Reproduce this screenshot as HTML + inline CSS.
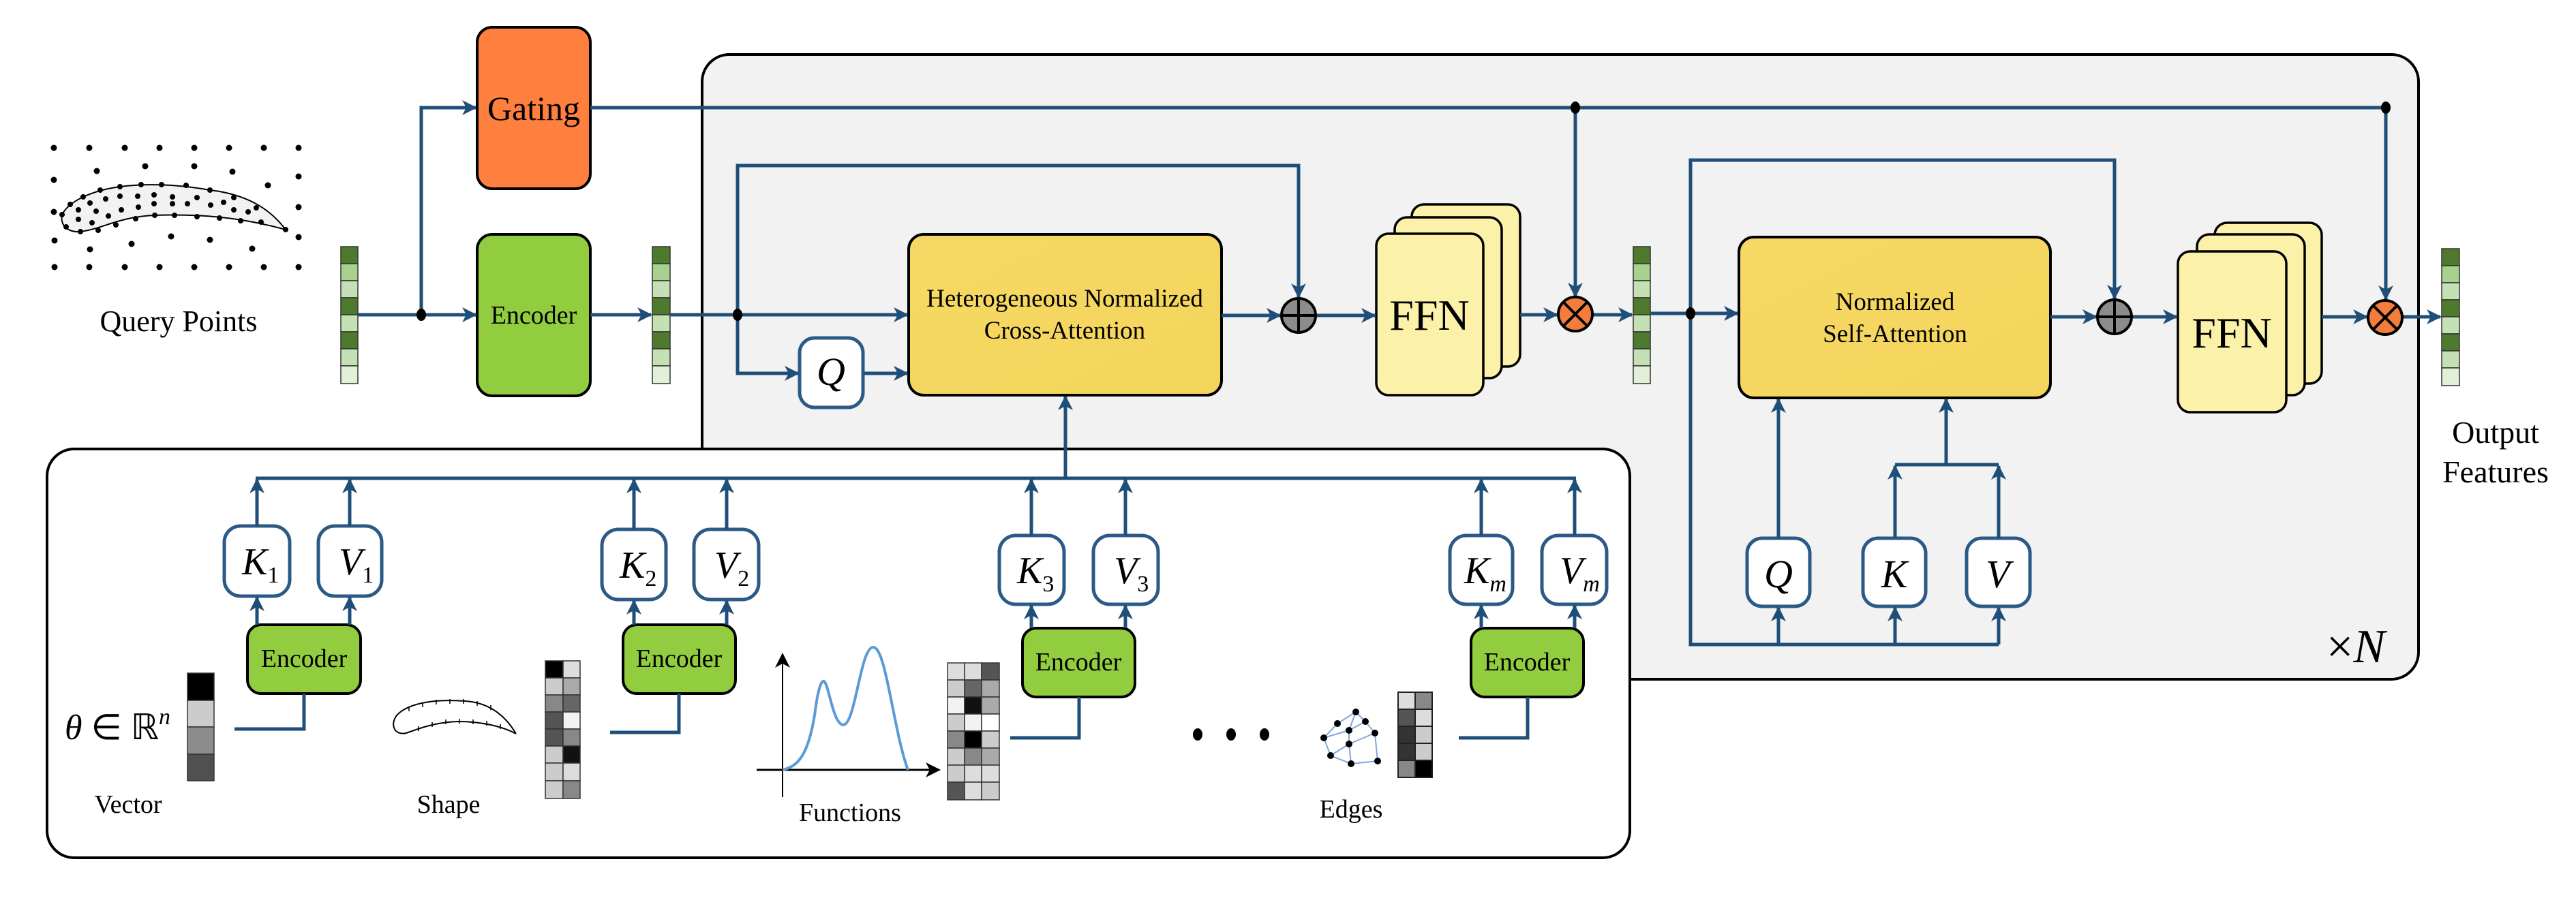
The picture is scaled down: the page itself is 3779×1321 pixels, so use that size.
<!DOCTYPE html>
<html><head><meta charset="utf-8"><style>
html,body{margin:0;padding:0;background:#fff}
svg{display:block}
text{font-family:"Liberation Serif","Times New Roman",serif;fill:#000}
</style></head><body>
<svg width="3779" height="1321" viewBox="0 0 3779 1321" xmlns="http://www.w3.org/2000/svg" font-family="Liberation Serif, serif">
<defs>
<marker id="a" markerUnits="userSpaceOnUse" markerWidth="24" markerHeight="22" refX="20" refY="11" orient="auto">
<path d="M0,0 L22,11 L0,22 L6,11 Z" fill="#1F4E79"/>
</marker>
<marker id="k" markerUnits="userSpaceOnUse" markerWidth="24" markerHeight="22" refX="20" refY="11" orient="auto">
<path d="M0,0 L22,11 L0,22 L6,11 Z" fill="#000"/>
</marker>
<linearGradient id="yg" x1="0" y1="0" x2="1" y2="1">
<stop offset="0" stop-color="#F6D864"/><stop offset="1" stop-color="#F4D55C"/></linearGradient>
</defs>

<rect x="1030" y="80" width="2518" height="917" rx="40" fill="#F2F2F2" stroke="#000" stroke-width="4"/>
<rect x="69" y="659" width="2322" height="600" rx="40" fill="#fff" stroke="#000" stroke-width="4"/>

<g fill="#000">
<circle cx="79" cy="217" r="4.5"/><circle cx="131" cy="217" r="4.5"/><circle cx="183" cy="217" r="4.5"/><circle cx="234" cy="217" r="4.5"/><circle cx="285" cy="217" r="4.5"/><circle cx="336" cy="217" r="4.5"/><circle cx="387" cy="217" r="4.5"/><circle cx="438" cy="217" r="4.5"/>
<circle cx="80" cy="392" r="4.5"/><circle cx="131" cy="392" r="4.5"/><circle cx="183" cy="392" r="4.5"/><circle cx="234" cy="392" r="4.5"/><circle cx="285" cy="392" r="4.5"/><circle cx="336" cy="392" r="4.5"/><circle cx="387" cy="392" r="4.5"/><circle cx="438" cy="392" r="4.5"/>
<circle cx="142" cy="251" r="4.5"/><circle cx="213" cy="244" r="4.5"/><circle cx="285" cy="244" r="4.5"/><circle cx="341" cy="252" r="4.5"/><circle cx="79" cy="264" r="4.5"/><circle cx="438" cy="259" r="4.5"/><circle cx="393" cy="272" r="4.5"/><circle cx="79" cy="311" r="4.5"/><circle cx="438" cy="304" r="4.5"/><circle cx="80" cy="353" r="4.5"/><circle cx="438" cy="348" r="4.5"/><circle cx="132" cy="366" r="4.5"/><circle cx="251" cy="347" r="4.5"/><circle cx="308" cy="352" r="4.5"/><circle cx="193" cy="358" r="4.5"/><circle cx="370" cy="365" r="4.5"/>
</g>
<path d="M419,337 C395,305 360,285 308,279 C270,272 220,268 176,274 C140,279 105,292 92,313 C86,330 100,342 118,340 C150,336 175,318 227,316 C290,314 350,318 419,337 Z" fill="#F2F2F2" stroke="#000" stroke-width="2"/>
<g fill="#000">
<circle cx="91" cy="315" r="4"/><circle cx="103" cy="300" r="4"/><circle cx="122" cy="289" r="4"/><circle cx="147" cy="279" r="4"/><circle cx="176" cy="274" r="4"/><circle cx="207" cy="271" r="4"/><circle cx="237" cy="271" r="4"/><circle cx="273" cy="272" r="4"/><circle cx="308" cy="279" r="4"/><circle cx="343" cy="290" r="4"/><circle cx="376" cy="305" r="4"/><circle cx="419" cy="337" r="4"/>
<circle cx="97" cy="333" r="4"/><circle cx="118" cy="340" r="4"/><circle cx="144" cy="338" r="4"/><circle cx="170" cy="330" r="4"/><circle cx="199" cy="321" r="4"/><circle cx="227" cy="316" r="4"/><circle cx="256" cy="316" r="4"/><circle cx="289" cy="318" r="4"/><circle cx="322" cy="320" r="4"/><circle cx="353" cy="324" r="4"/><circle cx="383" cy="326" r="4"/>
<circle cx="132" cy="298" r="4"/><circle cx="155" cy="292" r="4"/><circle cx="176" cy="288" r="4"/><circle cx="202" cy="288" r="4"/><circle cx="226" cy="286" r="4"/><circle cx="253" cy="289" r="4"/><circle cx="289" cy="290" r="4"/><circle cx="115" cy="308" r="4"/><circle cx="141" cy="310" r="4"/><circle cx="178" cy="308" r="4"/><circle cx="203" cy="304" r="4"/><circle cx="226" cy="299" r="4"/><circle cx="253" cy="299" r="4"/><circle cx="275" cy="299" r="4"/><circle cx="309" cy="301" r="4"/><circle cx="328" cy="297" r="4"/><circle cx="343" cy="308" r="4"/><circle cx="364" cy="311" r="4"/><circle cx="115" cy="322" r="4"/><circle cx="135" cy="327" r="4"/><circle cx="159" cy="317" r="4"/>
</g>
<text x="262" y="486" font-size="44" text-anchor="middle">Query Points</text>

<g stroke="#333" stroke-width="1.5">
<rect x="500" y="362" width="25" height="25" fill="#4E7A2E"/><rect x="500" y="387" width="25" height="25" fill="#A9D18E"/><rect x="500" y="412" width="25" height="25" fill="#C5E0B4"/><rect x="500" y="437" width="25" height="25" fill="#4E7A2E"/><rect x="500" y="462" width="25" height="25" fill="#C5E0B4"/><rect x="500" y="487" width="25" height="25" fill="#4E7A2E"/><rect x="500" y="512" width="25" height="25" fill="#C5E0B4"/><rect x="500" y="537" width="25" height="26" fill="#E2F0D9"/>
<rect x="957" y="362" width="26" height="25" fill="#4E7A2E"/><rect x="957" y="387" width="26" height="25" fill="#A9D18E"/><rect x="957" y="412" width="26" height="25" fill="#C5E0B4"/><rect x="957" y="437" width="26" height="25" fill="#4E7A2E"/><rect x="957" y="462" width="26" height="25" fill="#C5E0B4"/><rect x="957" y="487" width="26" height="25" fill="#4E7A2E"/><rect x="957" y="512" width="26" height="25" fill="#C5E0B4"/><rect x="957" y="537" width="26" height="26" fill="#E2F0D9"/>
<rect x="2396" y="362" width="25" height="25" fill="#4E7A2E"/><rect x="2396" y="387" width="25" height="25" fill="#A9D18E"/><rect x="2396" y="412" width="25" height="25" fill="#C5E0B4"/><rect x="2396" y="437" width="25" height="25" fill="#4E7A2E"/><rect x="2396" y="462" width="25" height="25" fill="#C5E0B4"/><rect x="2396" y="487" width="25" height="25" fill="#4E7A2E"/><rect x="2396" y="512" width="25" height="25" fill="#C5E0B4"/><rect x="2396" y="537" width="25" height="26" fill="#E2F0D9"/>
<rect x="3582" y="365" width="26" height="25" fill="#4E7A2E"/><rect x="3582" y="390" width="26" height="25" fill="#A9D18E"/><rect x="3582" y="415" width="26" height="25" fill="#C5E0B4"/><rect x="3582" y="440" width="26" height="25" fill="#4E7A2E"/><rect x="3582" y="465" width="26" height="25" fill="#C5E0B4"/><rect x="3582" y="490" width="26" height="25" fill="#4E7A2E"/><rect x="3582" y="515" width="26" height="25" fill="#C5E0B4"/><rect x="3582" y="540" width="26" height="26" fill="#E2F0D9"/>
</g>

<rect x="700" y="40" width="166" height="237" rx="22" fill="#FF7F3F" stroke="#000" stroke-width="4"/>
<text x="783" y="176" font-size="50" text-anchor="middle">Gating</text>
<rect x="700" y="344" width="166" height="237" rx="22" fill="#92CD3F" stroke="#000" stroke-width="4"/>
<text x="783" y="475" font-size="38" text-anchor="middle">Encoder</text>

<rect x="1333" y="344" width="459" height="236" rx="22" fill="url(#yg)" stroke="#000" stroke-width="4"/>
<text x="1562" y="450" font-size="37" text-anchor="middle">Heterogeneous Normalized</text>
<text x="1562" y="497" font-size="37" text-anchor="middle">Cross-Attention</text>

<rect x="1173" y="496" width="93" height="102" rx="22" fill="#fff" stroke="#2B5A87" stroke-width="5"/>
<text x="1219" y="565" font-size="58" font-style="italic" text-anchor="middle">Q</text>

<rect x="2071" y="300" width="159" height="238" rx="18" fill="#FBF1A9" stroke="#000" stroke-width="3.5"/>
<rect x="2046" y="319" width="157" height="236" rx="18" fill="#FBF1A9" stroke="#000" stroke-width="3.5"/>
<rect x="2019" y="343" width="157" height="237" rx="18" fill="#FBF1A9" stroke="#000" stroke-width="3.5"/>
<text x="2097" y="484" font-size="64" text-anchor="middle">FFN</text>

<rect x="2551" y="348" width="457" height="236" rx="22" fill="url(#yg)" stroke="#000" stroke-width="4"/>
<text x="2780" y="455" font-size="37" text-anchor="middle">Normalized</text>
<text x="2780" y="502" font-size="37" text-anchor="middle">Self-Attention</text>

<rect x="3249" y="327" width="157" height="236" rx="18" fill="#FBF1A9" stroke="#000" stroke-width="3.5"/>
<rect x="3223" y="344" width="158" height="236" rx="18" fill="#FBF1A9" stroke="#000" stroke-width="3.5"/>
<rect x="3195" y="369" width="159" height="236" rx="18" fill="#FBF1A9" stroke="#000" stroke-width="3.5"/>
<text x="3274" y="510" font-size="64" text-anchor="middle">FFN</text>

<g fill="#fff" stroke="#2B5A87" stroke-width="5">
<rect x="2563" y="790" width="92" height="100" rx="22"/>
<rect x="2733" y="790" width="92" height="100" rx="22"/>
<rect x="2885" y="790" width="93" height="100" rx="22"/>
</g>
<text x="2609" y="862" font-size="58" font-style="italic" text-anchor="middle">Q</text>
<text x="2779" y="862" font-size="58" font-style="italic" text-anchor="middle">K</text>
<text x="2931" y="862" font-size="58" font-style="italic" text-anchor="middle">V</text>

<text x="3456" y="972" font-size="70" text-anchor="middle">×<tspan font-style="italic">N</tspan></text>
<text x="3661" y="650" font-size="46" text-anchor="middle">Output</text>
<text x="3661" y="708" font-size="46" text-anchor="middle">Features</text>

<g stroke="#1F4E79" stroke-width="5" fill="none">
<line x1="525" y1="462" x2="698" y2="462" marker-end="url(#a)"/>
<polyline points="618,462 618,158 698,158" marker-end="url(#a)"/>
<line x1="866" y1="158" x2="3500" y2="158"/>
<line x1="2311" y1="158" x2="2311" y2="435" marker-end="url(#a)"/>
<line x1="3500" y1="158" x2="3500" y2="439" marker-end="url(#a)"/>
<line x1="866" y1="462" x2="955" y2="462" marker-end="url(#a)"/>
<line x1="983" y1="462" x2="1331" y2="462" marker-end="url(#a)"/>
<polyline points="1082,462 1082,548 1171,548" marker-end="url(#a)"/>
<line x1="1266" y1="548" x2="1331" y2="548" marker-end="url(#a)"/>
<polyline points="1082,462 1082,243 1905,243 1905,436" marker-end="url(#a)"/>
<line x1="1792" y1="463" x2="1878" y2="463" marker-end="url(#a)"/>
<line x1="1931" y1="463" x2="2017" y2="463" marker-end="url(#a)"/>
<line x1="2230" y1="462" x2="2284" y2="462" marker-end="url(#a)"/>
<line x1="2337" y1="462" x2="2394" y2="462" marker-end="url(#a)"/>
<line x1="2421" y1="460" x2="2549" y2="460" marker-end="url(#a)"/>
<polyline points="2480,460 2480,235 3102,235 3102,438" marker-end="url(#a)"/>
<polyline points="2480,460 2480,946 2932,946"/>
<line x1="2609" y1="946" x2="2609" y2="892" marker-end="url(#a)"/>
<line x1="2780" y1="946" x2="2780" y2="892" marker-end="url(#a)"/>
<line x1="2932" y1="946" x2="2932" y2="892" marker-end="url(#a)"/>
<line x1="2609" y1="790" x2="2609" y2="586" marker-end="url(#a)"/>
<line x1="2780" y1="790" x2="2780" y2="684" marker-end="url(#a)"/>
<line x1="2932" y1="790" x2="2932" y2="684" marker-end="url(#a)"/>
<line x1="2780" y1="682" x2="2932" y2="682"/>
<line x1="2855" y1="682" x2="2855" y2="586" marker-end="url(#a)"/>
<line x1="3008" y1="465" x2="3075" y2="465" marker-end="url(#a)"/>
<line x1="3128" y1="465" x2="3193" y2="465" marker-end="url(#a)"/>
<line x1="3406" y1="465" x2="3472" y2="465" marker-end="url(#a)"/>
<line x1="3525" y1="465" x2="3580" y2="465" marker-end="url(#a)"/>
<line x1="1563" y1="702" x2="1563" y2="582" marker-end="url(#a)"/>
<line x1="375" y1="702" x2="2312" y2="702"/>
</g>
<g fill="#000">
<ellipse cx="618" cy="462" rx="7" ry="9"/><ellipse cx="1082" cy="462" rx="7" ry="9"/><ellipse cx="2480" cy="460" rx="7" ry="9"/>
<ellipse cx="2311" cy="158" rx="7" ry="9"/><ellipse cx="3500" cy="158" rx="7" ry="9"/>
</g>
<g stroke="#000" stroke-width="4">
<circle cx="1905" cy="463" r="25" fill="#8C8C8C"/><line x1="1880" y1="463" x2="1930" y2="463"/><line x1="1905" y1="438" x2="1905" y2="488"/>
<circle cx="3102" cy="465" r="25" fill="#8C8C8C"/><line x1="3077" y1="465" x2="3127" y2="465"/><line x1="3102" y1="440" x2="3102" y2="490"/>
<circle cx="2311" cy="461" r="25" fill="#F47C3C"/><line x1="2293" y1="443" x2="2329" y2="479"/><line x1="2329" y1="443" x2="2293" y2="479"/>
<circle cx="3499" cy="466" r="25" fill="#F47C3C"/><line x1="3481" y1="448" x2="3517" y2="484"/><line x1="3517" y1="448" x2="3481" y2="484"/>
</g>

<g fill="#fff" stroke="#2B5A87" stroke-width="5">
<rect x="329" y="772" width="96" height="103" rx="24"/><rect x="467" y="772" width="93" height="103" rx="24"/>
<rect x="883" y="777" width="94" height="103" rx="24"/><rect x="1018" y="777" width="95" height="103" rx="24"/>
<rect x="1466" y="786" width="95" height="101" rx="24"/><rect x="1604" y="786" width="95" height="101" rx="24"/>
<rect x="2127" y="786" width="92" height="101" rx="24"/><rect x="2262" y="786" width="95" height="101" rx="24"/>
</g>
<g font-size="56" font-style="italic">
<text x="355" y="843">K<tspan font-size="34" font-style="normal" dy="12">1</tspan></text>
<text x="497" y="843">V<tspan font-size="34" font-style="normal" dy="12">1</tspan></text>
<text x="909" y="848">K<tspan font-size="34" font-style="normal" dy="12">2</tspan></text>
<text x="1048" y="848">V<tspan font-size="34" font-style="normal" dy="12">2</tspan></text>
<text x="1492" y="856">K<tspan font-size="34" font-style="normal" dy="12">3</tspan></text>
<text x="1634" y="856">V<tspan font-size="34" font-style="normal" dy="12">3</tspan></text>
<text x="2148" y="856">K<tspan font-size="34" dy="12">m</tspan></text>
<text x="2288" y="856">V<tspan font-size="34" dy="12">m</tspan></text>
</g>
<g fill="#92CD3F" stroke="#000" stroke-width="4">
<rect x="363" y="917" width="166" height="101" rx="20"/>
<rect x="914" y="917" width="165" height="101" rx="20"/>
<rect x="1500" y="922" width="165" height="101" rx="20"/>
<rect x="2158" y="922" width="165" height="101" rx="20"/>
</g>
<g font-size="38" text-anchor="middle">
<text x="446" y="979">Encoder</text><text x="996" y="979">Encoder</text><text x="1582" y="984">Encoder</text><text x="2240" y="984">Encoder</text>
</g>
<g stroke="#1F4E79" stroke-width="5" fill="none">
<line x1="377" y1="917" x2="377" y2="877" marker-end="url(#a)"/><line x1="513" y1="917" x2="513" y2="877" marker-end="url(#a)"/>
<line x1="377" y1="772" x2="377" y2="704" marker-end="url(#a)"/><line x1="513" y1="772" x2="513" y2="704" marker-end="url(#a)"/>
<line x1="930" y1="917" x2="930" y2="882" marker-end="url(#a)"/><line x1="1066" y1="917" x2="1066" y2="882" marker-end="url(#a)"/>
<line x1="930" y1="777" x2="930" y2="704" marker-end="url(#a)"/><line x1="1066" y1="777" x2="1066" y2="704" marker-end="url(#a)"/>
<line x1="1513" y1="922" x2="1513" y2="889" marker-end="url(#a)"/><line x1="1651" y1="922" x2="1651" y2="889" marker-end="url(#a)"/>
<line x1="1513" y1="786" x2="1513" y2="704" marker-end="url(#a)"/><line x1="1651" y1="786" x2="1651" y2="704" marker-end="url(#a)"/>
<line x1="2173" y1="922" x2="2173" y2="889" marker-end="url(#a)"/><line x1="2310" y1="922" x2="2310" y2="889" marker-end="url(#a)"/>
<line x1="2173" y1="786" x2="2173" y2="704" marker-end="url(#a)"/><line x1="2310" y1="786" x2="2310" y2="704" marker-end="url(#a)"/>
<polyline points="446,1018 446,1070 344,1070"/>
<polyline points="996,1018 996,1075 895,1075"/>
<polyline points="1583,1023 1583,1083 1482,1083"/>
<polyline points="2241,1023 2241,1083 2140,1083"/>
</g>

<text x="95" y="1085" font-size="52"><tspan font-style="italic">θ</tspan> ∈ ℝ<tspan font-style="italic" font-size="34" dy="-22">n</tspan></text>
<g stroke="#333" stroke-width="1.5">
<rect x="275" y="988" width="39" height="40" fill="#000"/><rect x="275" y="1028" width="39" height="39" fill="#CCC"/><rect x="275" y="1067" width="39" height="40" fill="#8C8C8C"/><rect x="275" y="1107" width="39" height="39" fill="#505050"/>
</g>
<text x="188" y="1193" font-size="38" text-anchor="middle">Vector</text>

<path d="M757,1077 C740,1048 715,1031 682,1029 C645,1026 600,1030 582,1050 C572,1063 578,1080 596,1076 C618,1068 640,1060 672,1059 C705,1059 737,1066 757,1077" fill="none" stroke="#000" stroke-width="2"/>
<g stroke="#000" stroke-width="1.5">
<line x1="600" y1="1037" x2="600" y2="1044"/><line x1="620" y1="1031" x2="620" y2="1038"/><line x1="640" y1="1027" x2="640" y2="1034"/><line x1="660" y1="1026" x2="660" y2="1033"/><line x1="680" y1="1026" x2="680" y2="1033"/><line x1="700" y1="1029" x2="700" y2="1036"/><line x1="720" y1="1035" x2="720" y2="1042"/>
<line x1="614" y1="1066" x2="614" y2="1073"/><line x1="634" y1="1060" x2="634" y2="1067"/><line x1="654" y1="1056" x2="654" y2="1063"/><line x1="674" y1="1055" x2="674" y2="1062"/><line x1="694" y1="1056" x2="694" y2="1063"/><line x1="714" y1="1058" x2="714" y2="1065"/><line x1="734" y1="1063" x2="734" y2="1070"/>
</g>
<text x="658" y="1193" font-size="38" text-anchor="middle">Shape</text>
<g stroke="#333" stroke-width="1.5">
<rect x="800" y="970" width="26" height="25" fill="#000"/><rect x="826" y="970" width="25" height="25" fill="#DDD"/>
<rect x="800" y="995" width="26" height="25" fill="#CCC"/><rect x="826" y="995" width="25" height="25" fill="#AAA"/>
<rect x="800" y="1020" width="26" height="25" fill="#888"/><rect x="826" y="1020" width="25" height="25" fill="#666"/>
<rect x="800" y="1045" width="26" height="25" fill="#555"/><rect x="826" y="1045" width="25" height="25" fill="#F2F2F2"/>
<rect x="800" y="1070" width="26" height="25" fill="#555"/><rect x="826" y="1070" width="25" height="25" fill="#888"/>
<rect x="800" y="1095" width="26" height="25" fill="#CCC"/><rect x="826" y="1095" width="25" height="25" fill="#111"/>
<rect x="800" y="1120" width="26" height="26" fill="#CCC"/><rect x="826" y="1120" width="25" height="26" fill="#DDD"/>
<rect x="800" y="1146" width="26" height="26" fill="#CCC"/><rect x="826" y="1146" width="25" height="26" fill="#888"/>
</g>

<line x1="1148" y1="1170" x2="1148" y2="960" stroke="#000" stroke-width="2" marker-end="url(#k)"/>
<line x1="1110" y1="1130" x2="1378" y2="1130" stroke="#000" stroke-width="3" marker-end="url(#k)"/>
<path d="M1148,1130 C1170,1125 1185,1110 1195,1050 C1200,1010 1205,998 1209,1000 C1216,1005 1222,1063 1237,1064 C1255,1064 1262,950 1281,950 C1300,950 1310,1070 1332,1130" fill="none" stroke="#5B9BD5" stroke-width="4"/>
<text x="1247" y="1205" font-size="38" text-anchor="middle">Functions</text>
<g stroke="#333" stroke-width="1.5">
<rect x="1390" y="973" width="25" height="25" fill="#DDD"/><rect x="1415" y="973" width="25" height="25" fill="#DDD"/><rect x="1440" y="973" width="26" height="25" fill="#555"/>
<rect x="1390" y="998" width="25" height="25" fill="#CCC"/><rect x="1415" y="998" width="25" height="25" fill="#666"/><rect x="1440" y="998" width="26" height="25" fill="#AAA"/>
<rect x="1390" y="1023" width="25" height="25" fill="#F2F2F2"/><rect x="1415" y="1023" width="25" height="25" fill="#111"/><rect x="1440" y="1023" width="26" height="25" fill="#AAA"/>
<rect x="1390" y="1048" width="25" height="25" fill="#CCC"/><rect x="1415" y="1048" width="25" height="25" fill="#F2F2F2"/><rect x="1440" y="1048" width="26" height="25" fill="#FFF"/>
<rect x="1390" y="1073" width="25" height="25" fill="#888"/><rect x="1415" y="1073" width="25" height="25" fill="#000"/><rect x="1440" y="1073" width="26" height="25" fill="#CCC"/>
<rect x="1390" y="1098" width="25" height="25" fill="#CCC"/><rect x="1415" y="1098" width="25" height="25" fill="#888"/><rect x="1440" y="1098" width="26" height="25" fill="#AAA"/>
<rect x="1390" y="1123" width="25" height="25" fill="#CCC"/><rect x="1415" y="1123" width="25" height="25" fill="#DDD"/><rect x="1440" y="1123" width="26" height="25" fill="#DDD"/>
<rect x="1390" y="1148" width="25" height="26" fill="#555"/><rect x="1415" y="1148" width="25" height="26" fill="#DDD"/><rect x="1440" y="1148" width="26" height="26" fill="#CCC"/>
</g>

<g fill="#000"><ellipse cx="1757" cy="1078" rx="7" ry="9"/><ellipse cx="1806" cy="1078" rx="7" ry="9"/><ellipse cx="1855" cy="1078" rx="7" ry="9"/></g>

<g stroke="#7FA8DC" stroke-width="2">
<line x1="1962" y1="1062" x2="1989" y2="1045"/><line x1="1989" y1="1045" x2="1979" y2="1072"/><line x1="1989" y1="1045" x2="2003" y2="1059"/><line x1="2003" y1="1059" x2="2017" y2="1076"/><line x1="2003" y1="1059" x2="1979" y2="1072"/><line x1="1942" y1="1083" x2="1962" y2="1062"/><line x1="1942" y1="1083" x2="1979" y2="1072"/><line x1="1942" y1="1083" x2="1952" y2="1109"/><line x1="1979" y1="1072" x2="1979" y2="1092"/><line x1="1979" y1="1092" x2="2017" y2="1076"/><line x1="1979" y1="1092" x2="1952" y2="1109"/><line x1="1979" y1="1092" x2="1982" y2="1121"/><line x1="1952" y1="1109" x2="1982" y2="1121"/><line x1="1982" y1="1121" x2="2021" y2="1117"/><line x1="2017" y1="1076" x2="2021" y2="1117"/>
</g>
<g fill="#000">
<circle cx="1989" cy="1045" r="5"/><circle cx="1962" cy="1062" r="5"/><circle cx="2003" cy="1059" r="5"/><circle cx="1979" cy="1072" r="5"/><circle cx="2017" cy="1076" r="5"/><circle cx="1942" cy="1083" r="5"/><circle cx="1979" cy="1092" r="5"/><circle cx="1952" cy="1109" r="5"/><circle cx="1982" cy="1121" r="5"/><circle cx="2021" cy="1117" r="5"/>
</g>
<g stroke="#222" stroke-width="2">
<rect x="2051" y="1016" width="25" height="25" fill="#DDD"/><rect x="2076" y="1016" width="25" height="25" fill="#888"/>
<rect x="2051" y="1041" width="25" height="25" fill="#555"/><rect x="2076" y="1041" width="25" height="25" fill="#DDD"/>
<rect x="2051" y="1066" width="25" height="25" fill="#333"/><rect x="2076" y="1066" width="25" height="25" fill="#CCC"/>
<rect x="2051" y="1091" width="25" height="25" fill="#333"/><rect x="2076" y="1091" width="25" height="25" fill="#CCC"/>
<rect x="2051" y="1116" width="25" height="25" fill="#888"/><rect x="2076" y="1116" width="25" height="25" fill="#000"/>
</g>
<text x="1982" y="1200" font-size="38" text-anchor="middle">Edges</text>
</svg>
</body></html>
